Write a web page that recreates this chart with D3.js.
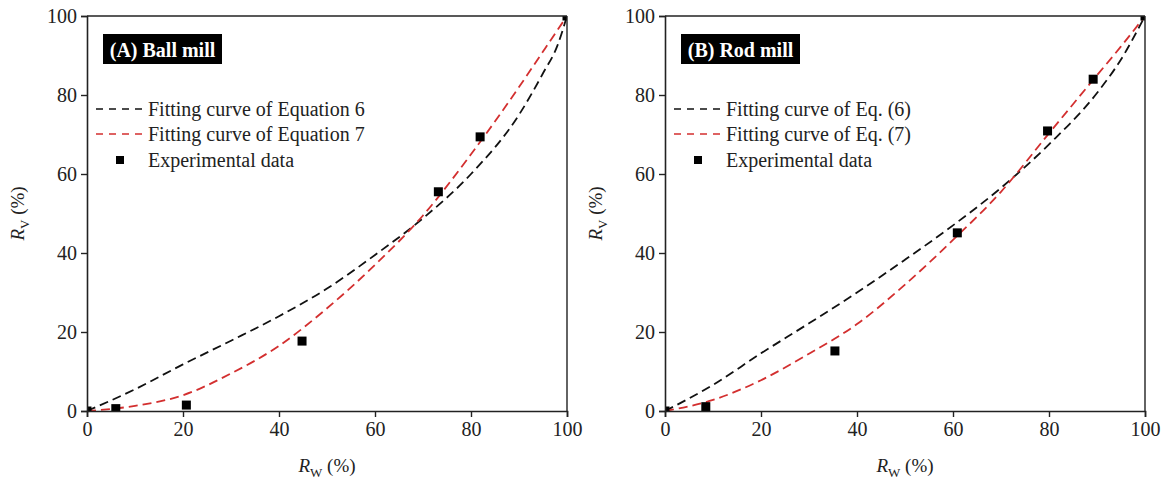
<!DOCTYPE html>
<html><head><meta charset="utf-8">
<script src="https://cdn.jsdelivr.net/npm/d3@7"></script>
<style>
html,body{margin:0;padding:0;background:#fff;}
svg{display:block;font-family:"Liberation Serif","Times New Roman",Times,serif;}
</style></head>
<body>
<svg id="chart" width="1163" height="483"></svg>
<script>
// ---- data ----
const xTicks = [0, 20, 40, 60, 80, 100];
const yTicks = [0, 20, 40, 60, 80, 100];

const ballTitle = "(A) Ball mill";
const ballLegend = ["Fitting curve of Equation 6", "Fitting curve of Equation 7", "Experimental data"];
const ballExpX = [0, 6.0, 20.7, 44.8, 73.2, 81.9, 100];
const ballExpY = [0, 0.6, 1.5, 17.7, 55.5, 69.4, 100];
const ballFitX = [0, 10, 20, 30, 40, 50, 60, 70, 80, 90, 95, 98, 100];
const ballEq6Y = [0, 5.5, 11.8, 17.8, 24, 31, 39.5, 48.8, 60, 75, 85.5, 92.5, 100];
const ballEq7Y = [0, 1.3, 4, 9.5, 16.5, 26, 37, 49.5, 65, 82, 91, 96.4, 100];

const rodTitle = "(B) Rod mill";
const rodLegend = ["Fitting curve of Eq. (6)", "Fitting curve of Eq. (7)", "Experimental data"];
const rodExpX = [0, 8.5, 35.4, 60.9, 79.7, 89.2, 100];
const rodExpY = [0, 1.1, 15.2, 45.1, 70.9, 84.0, 100];
const rodFitX = [0, 10, 20, 30, 40, 50, 60, 70, 80, 90, 95, 100];
const rodEq6Y = [0, 6.6, 14.6, 22.2, 30, 38.3, 47, 56.5, 67.5, 80.5, 89, 100];
const rodEq7Y = [0, 2.8, 7.8, 14.5, 22, 32, 43.3, 55.5, 70.3, 85, 92.3, 100];

const black = "#111", red = "#d32f2f";
const svg = d3.select("#chart");
const FONT = "'Liberation Serif','Times New Roman',Times,serif";

function panel(id, left, title, legend, expX, expY, fitX, eq6Y, eq7Y, legX, boxW) {
  const top = 16, w = 480, h = 395;
  const x = d3.scaleLinear().domain([0, 100]).range([left, left + w]);
  const y = d3.scaleLinear().domain([0, 100]).range([top + h, top]);
  const g = svg.append("g");

  g.append("clipPath").attr("id", "clip" + id)
    .append("rect").attr("x", left).attr("y", top).attr("width", w).attr("height", h);

  const line = d3.line().x(d => x(d[0])).y(d => y(d[1])).curve(d3.curveMonotoneX);
  const curves = g.append("g").attr("clip-path", `url(#clip${id})`);
  curves.append("path").datum(fitX.map((v, i) => [v, eq6Y[i]]))
    .attr("d", line).attr("fill", "none").attr("stroke", black)
    .attr("stroke-width", 1.8).attr("stroke-dasharray", "9,5");
  curves.append("path").datum(fitX.map((v, i) => [v, eq7Y[i]]))
    .attr("d", line).attr("fill", "none").attr("stroke", red)
    .attr("stroke-width", 1.8).attr("stroke-dasharray", "9,5");
  const ms = 9;
  curves.selectAll("rect.pt").data(expX.map((v, i) => [v, expY[i]])).join("rect")
    .attr("class", "pt")
    .attr("x", d => x(d[0]) - ms / 2).attr("y", d => y(d[1]) - ms / 2)
    .attr("width", ms).attr("height", ms).attr("fill", "#000");

  // frame
  g.append("line").attr("x1", left).attr("x2", left + w).attr("y1", top).attr("y2", top)
    .attr("stroke", "#222").attr("stroke-width", 1.4);
  g.append("line").attr("x1", left + w).attr("x2", left + w).attr("y1", top).attr("y2", top + h)
    .attr("stroke", "#222").attr("stroke-width", 1.4);

  const xa = g.append("g").attr("transform", `translate(0,${top + h})`)
    .call(d3.axisBottom(x).tickValues(xTicks).tickSize(6).tickPadding(5).tickFormat(d3.format("d")));
  const ya = g.append("g").attr("transform", `translate(${left},0)`)
    .call(d3.axisLeft(y).tickValues(yTicks).tickSize(6).tickPadding(4).tickFormat(d3.format("d")));
  [xa, ya].forEach(a => {
    a.select(".domain").attr("stroke", "#222").attr("stroke-width", 1.6);
    a.selectAll(".tick line").attr("stroke", "#222").attr("stroke-width", 1.4);
    a.selectAll(".tick text").attr("fill", "#222").style("font-size", "20px").style("font-family", FONT);
  });

  // axis titles
  const xt = g.append("text").attr("x", left + w / 2).attr("y", 472)
    .attr("text-anchor", "middle").attr("fill", "#222").style("font-size", "19px");
  xt.append("tspan").style("font-style", "italic").text("R");
  xt.append("tspan").attr("dy", 5).style("font-size", "13px").text("W");
  xt.append("tspan").attr("dy", -5).text(" (%)");

  const yt = g.append("text").attr("transform", `translate(${left - 63},${top + h / 2}) rotate(-90)`)
    .attr("text-anchor", "middle").attr("fill", "#222").style("font-size", "19px");
  yt.append("tspan").style("font-style", "italic").text("R");
  yt.append("tspan").attr("dy", 5).style("font-size", "13px").text("V");
  yt.append("tspan").attr("dy", -5).text(" (%)");

  // title box
  g.append("rect").attr("x", left + 16).attr("y", 34).attr("width", boxW).attr("height", 30).attr("fill", "#000");
  g.append("text").attr("x", left + 16 + boxW / 2).attr("y", 57).attr("text-anchor", "middle")
    .attr("fill", "#fff").style("font-weight", "bold").style("font-size", "20px").text(title);

  // legend
  const ly = [109, 134, 160];
  [black, red].forEach((c, i) => {
    g.append("line").attr("x1", legX).attr("x2", legX + 47).attr("y1", ly[i]).attr("y2", ly[i])
      .attr("stroke", c).attr("stroke-width", 1.6).attr("stroke-dasharray", "7,6");
  });
  g.append("rect").attr("x", legX + 20).attr("y", ly[2] - 4).attr("width", 8).attr("height", 8).attr("fill", "#000");
  legend.forEach((t, i) => {
    g.append("text").attr("x", legX + 52).attr("y", ly[i] + 7).attr("fill", "#222")
      .style("font-size", "20px").text(t);
  });
}

panel("A", 87, ballTitle, ballLegend, ballExpX, ballExpY, ballFitX, ballEq6Y, ballEq7Y, 96, 119);
panel("B", 665, rodTitle, rodLegend, rodExpX, rodExpY, rodFitX, rodEq6Y, rodEq7Y, 674, 119);
</script>
</body></html>
